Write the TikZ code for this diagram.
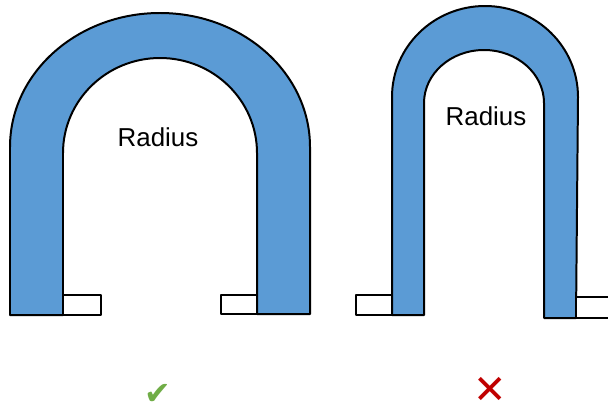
\documentclass[tikz,border=0pt]{standalone}
\usepackage{fontspec}
\setmainfont{Liberation Sans}
\newfontfamily\symfont{DejaVu Sans}
\definecolor{bendblue}{RGB}{91,155,213}
\definecolor{okgreen}{RGB}{112,173,71}
\definecolor{badred}{RGB}{192,0,0}

\begin{document}
\begin{tikzpicture}[x=1bp,y=1bp,line join=round]

  \useasboundingbox (0,0) rectangle (608,409);
  \clip (0,0) rectangle (608,409);

  %% good bend
  \draw[black, line width=2, fill=bendblue] (10,94) -- (10,262)
    arc[start angle=180, end angle=0, x radius=150, y radius=134]
    -- (310,95) -- (257,95) -- (257,256)
    arc[start angle=0, end angle=180, x radius=97, y radius=95]
    -- (63,94) -- cycle;
  \draw[black, line width=1.5, fill=white] (63,94) rectangle (101,114);
  \draw[black, line width=1.5, fill=white] (221,95) rectangle (257,114);
  \node (goodlabel) at (158,272) {\fontsize{26}{30}\selectfont Radius};

  %% bad bend
  \draw[black, line width=2, fill=bendblue] (392,94) -- (392,312)
    arc[start angle=180, end angle=0, x radius=93, y radius=91]
    -- (576,91) -- (544,91) -- (544,306)
    arc[start angle=0, end angle=180, x radius=60, y radius=53]
    -- (424,94) -- cycle;
  \draw[black, line width=1.5, fill=white] (356,94) rectangle (392,114);
  \draw[black, line width=1.5, fill=white] (576,91) rectangle (614,112);
  \node (badlabel) at (486,293) {\fontsize{26}{30}\selectfont Radius};

  % marks
  \node[text=okgreen, inner sep=0] (okmark) at (158,15) {\symfont\fontsize{32}{36}\selectfont ✔};
  \node[text=badred, inner sep=0] (badmark) at (490,19) {\symfont\fontsize{40}{44}\selectfont ✕};

\end{tikzpicture}
\end{document}
